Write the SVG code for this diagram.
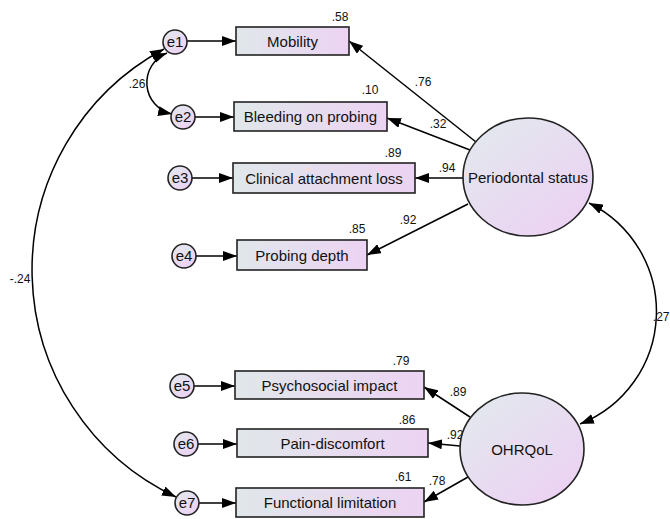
<svg xmlns="http://www.w3.org/2000/svg" width="670" height="519" viewBox="0 0 670 519">
<defs>
<linearGradient id="gBox" x1="0" y1="0" x2="1" y2="0">
<stop offset="0" stop-color="#e0e7ea"/>
<stop offset="1" stop-color="#ecd3f3"/>
</linearGradient>
<linearGradient id="gEll" x1="0.15" y1="0.1" x2="0.85" y2="0.9">
<stop offset="0" stop-color="#e3e7ee"/>
<stop offset="1" stop-color="#ecd2f3"/>
</linearGradient>
<marker id="ah" viewBox="0 0 14 10" refX="14" refY="5" markerWidth="14" markerHeight="10" markerUnits="userSpaceOnUse" orient="auto-start-reverse">
<path d="M0,0 L14,5 L0,10 z" fill="#000"/>
</marker>
</defs>
<style>
.box{fill:url(#gBox);stroke:#222;stroke-width:1.6}
.ell{fill:url(#gEll);stroke:#222;stroke-width:1.6}
.err{fill:url(#gEll);stroke:#222;stroke-width:1.6}
.lbl{font-family:"Liberation Sans",Arial,sans-serif;font-size:15px;fill:#111;text-anchor:middle}
.elbl{font-family:"Liberation Sans",Arial,sans-serif;font-size:15px;fill:#111;text-anchor:middle}
.num{font-family:"Liberation Sans",Arial,sans-serif;font-size:12px;fill:#111;text-anchor:middle}
.c{fill:none;stroke:#000;stroke-width:1.5;marker-end:url(#ah)}
.cv{fill:none;stroke:#000;stroke-width:1.5;marker-start:url(#ah);marker-end:url(#ah)}
</style>
<g id="connectors">
<line class="c" x1="187" y1="41" x2="236" y2="41"/>
<line class="c" x1="195" y1="117" x2="234" y2="117"/>
<line class="c" x1="192" y1="178" x2="233" y2="178"/>
<line class="c" x1="196" y1="256" x2="237" y2="256"/>
<line class="c" x1="194" y1="386" x2="235" y2="386"/>
<line class="c" x1="198" y1="444" x2="237" y2="444"/>
<line class="c" x1="199" y1="503" x2="236" y2="503"/>
<line class="c" x1="476" y1="142" x2="349" y2="41"/>
<line class="c" x1="470" y1="150" x2="387" y2="118"/>
<line class="c" x1="463" y1="178" x2="415" y2="178"/>
<line class="c" x1="468" y1="204" x2="367" y2="255"/>
<line class="c" x1="470" y1="417" x2="424" y2="387"/>
<line class="c" x1="460" y1="446" x2="428" y2="443"/>
<line class="c" x1="468" y1="477" x2="424" y2="502"/>
<path class="cv" d="M164,49 A251,251 0 0,0 176,497"/>
<path class="cv" d="M167,53 A32,32 0 0,0 172,114"/>
<path class="cv" d="M589,203 A121,121 0 0,1 580,424"/>
<text class="num" x="137" y="88">.26</text>
<text class="num" x="20" y="283">-.24</text>
<text class="num" x="669.5" y="321" font-size="11.5" style="text-anchor:end">.27</text>
<text class="num" x="423" y="86">.76</text>
<text class="num" x="438" y="128">.32</text>
<text class="num" x="447" y="172">.94</text>
<text class="num" x="408" y="224">.92</text>
<text class="num" x="458" y="396">.89</text>
<text class="num" x="455" y="439">.92</text>
<text class="num" x="437" y="485">.78</text>
</g>
<g id="e1"><circle class="err" cx="175" cy="42" r="12"/><text class="elbl" x="175" y="47">e1</text></g>
<g id="e2"><circle class="err" cx="183" cy="117" r="12"/><text class="elbl" x="183" y="122">e2</text></g>
<g id="e3"><circle class="err" cx="180" cy="178" r="12"/><text class="elbl" x="180" y="183">e3</text></g>
<g id="e4"><circle class="err" cx="184" cy="256" r="12"/><text class="elbl" x="184" y="261">e4</text></g>
<g id="e5"><circle class="err" cx="182" cy="386" r="12"/><text class="elbl" x="182" y="391">e5</text></g>
<g id="e6"><circle class="err" cx="186" cy="444" r="12"/><text class="elbl" x="186" y="449">e6</text></g>
<g id="e7"><circle class="err" cx="187" cy="503" r="12"/><text class="elbl" x="187" y="508">e7</text></g>
<g id="mobility"><rect class="box" x="236" y="27" width="113" height="28"/><text class="lbl" x="292.5" y="46.5">Mobility</text><text class="num" x="340" y="21">.58</text></g>
<g id="bleeding"><rect class="box" x="234" y="102" width="153" height="29"/><text class="lbl" x="310.5" y="122">Bleeding on probing</text><text class="num" x="370" y="94">.10</text></g>
<g id="clinical"><rect class="box" x="233" y="163" width="182" height="30"/><text class="lbl" x="324" y="183.5">Clinical attachment loss</text><text class="num" x="393" y="157">.89</text></g>
<g id="probing"><rect class="box" x="237" y="240" width="130" height="30"/><text class="lbl" x="302" y="260.5">Probing depth</text><text class="num" x="357" y="233">.85</text></g>
<g id="psychosocial"><rect class="box" x="235" y="371" width="189" height="28"/><text class="lbl" x="329.5" y="390.5">Psychosocial impact</text><text class="num" x="401" y="365">.79</text></g>
<g id="pain"><rect class="box" x="237" y="429" width="191" height="28"/><text class="lbl" x="332.5" y="448.5">Pain-discomfort</text><text class="num" x="407" y="424">.86</text></g>
<g id="functional"><rect class="box" x="236" y="488" width="188" height="29"/><text class="lbl" x="330" y="508">Functional limitation</text><text class="num" x="403" y="481">.61</text></g>
<g id="periodontal"><ellipse class="ell" cx="528" cy="177" rx="65" ry="59"/><text class="lbl" x="528" y="182.5">Periodontal status</text></g>
<g id="ohrqol"><ellipse class="ell" cx="522" cy="449" rx="62" ry="56"/><text class="lbl" x="522" y="454.5">OHRQoL</text></g>
</svg>
